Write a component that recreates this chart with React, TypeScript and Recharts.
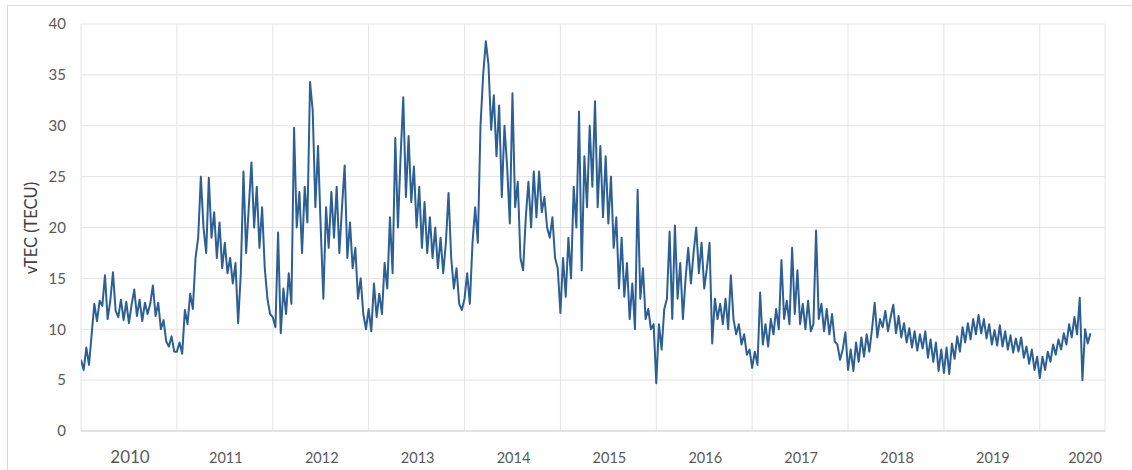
import { LineChart, Line, XAxis, YAxis, CartesianGrid } from 'recharts';

// vTEC readings, ~10 days apart (36 per year)
const years = [2010, 2011, 2012, 2013, 2014, 2015, 2016, 2017, 2018, 2019, 2020];

const vtec2010 = [7, 6, 8.2, 6.5, 9.5, 12.5, 10.8, 12.8, 12.3, 15.3, 11, 12.8, 15.6, 11.8, 11.2, 12.9, 10.9, 12.7, 10.6, 12.4, 13.9, 11.3, 12.9, 10.8, 12.6, 11.5, 12.5, 14.3, 11.3, 12.6, 10, 10.9, 8.8, 8.3, 9.3, 7.8];
const vtec2011 = [7.8, 8.7, 7.6, 11.9, 10.5, 13.5, 12, 17, 19, 25, 20, 17.5, 24.9, 19, 21.5, 17, 20.5, 16, 18.5, 15.5, 17, 14.5, 16.5, 10.6, 15.5, 25.5, 17.5, 22, 26.4, 20, 24, 18, 22, 16, 13, 11.5];
const vtec2012 = [11.2, 10.2, 19.5, 9.6, 14, 11.5, 15.5, 12.5, 29.8, 20, 23.5, 17.5, 24, 20.5, 34.3, 31.5, 22, 28, 20, 13, 22, 18, 23.5, 19, 24, 17.5, 22, 26.1, 17, 20.5, 16, 18, 13, 15, 11.5, 10];
const vtec2013 = [12, 9.8, 14.5, 11.2, 13.5, 11.5, 16.5, 14, 21, 15.5, 28.8, 20, 27, 32.8, 23, 29, 22.5, 26, 20, 24, 18, 22.5, 17.5, 21, 17, 20, 16, 19, 15.5, 18.5, 23.4, 17, 14, 16, 12.5, 11.9];
const vtec2014 = [13, 15.5, 12.5, 18.5, 22, 18.5, 30, 35, 38.3, 36, 29.6, 33, 27, 32, 23, 30, 26, 20.4, 33.2, 22, 24.5, 17, 15.8, 21, 24.5, 20, 25.5, 21, 25.5, 21.5, 23, 20, 19, 21, 17, 16];
const vtec2015 = [11.6, 17, 13.2, 19, 15, 24, 20, 31.4, 15.8, 27, 22, 30, 24, 32.4, 22, 28, 21, 27, 20.4, 25, 18, 21, 14, 19, 13.2, 16.5, 11, 14.5, 10, 23.7, 13, 16, 11, 12, 10, 10.5];
const vtec2016 = [4.7, 10.5, 8, 12, 13, 19.6, 11, 20.2, 13, 16.5, 11, 15, 18, 14.5, 17.5, 20, 15.5, 18.5, 14, 16, 18.5, 8.6, 13, 11, 12.5, 10.5, 13, 10, 15.3, 11, 9.5, 10.5, 8.5, 9.5, 7.5, 8];
const vtec2017 = [6.2, 7.8, 6.5, 13.6, 8.5, 10.5, 8.3, 11, 9.5, 12, 10, 16.8, 11, 12.8, 10.5, 18, 11.5, 15.8, 10.5, 12.5, 10, 12.8, 9.8, 10.5, 19.7, 11, 12.5, 9.8, 12, 9.5, 11.5, 8.8, 8.5, 7, 8, 9.7];
const vtec2018 = [6, 8, 5.9, 8.7, 6.8, 9.2, 7.3, 9.5, 7.8, 10, 12.6, 9.2, 11, 10.2, 11.8, 9.8, 11.2, 12.4, 9.6, 11.3, 9.2, 10.6, 8.7, 10.1, 8.2, 9.8, 7.9, 9.5, 8.1, 9.8, 7.2, 9, 6.8, 8.7, 5.9, 8];
const vtec2019 = [5.7, 8.2, 5.6, 8.6, 7.1, 9.3, 7.8, 10.2, 8.7, 10.6, 9, 11, 9.5, 11.4, 9.6, 11, 9.1, 10.5, 8.5, 9.9, 8.4, 10.4, 8.3, 9.8, 8, 9.4, 7.7, 9.1, 7.8, 9.2, 7.2, 8.3, 6.6, 8, 6, 7.3];
const vtec2020 = [5.2, 7.3, 6, 7.8, 6.8, 8.5, 7.5, 9, 8, 9.6, 8.5, 10.5, 9.2, 11.2, 9.5, 13.1, 5, 10, 8.6, 9.6];

const yearSeries = [vtec2010, vtec2011, vtec2012, vtec2013, vtec2014, vtec2015, vtec2016, vtec2017, vtec2018, vtec2019, vtec2020];
const yTicks = [0, 5, 10, 15, 20, 25, 30, 35, 40];

const data = yearSeries.flatMap((vals, k) =>
  vals.map((v, i) => ({ t: years[k] + i / 36, v }))
);

const font = 'Lato, "Open Sans", sans-serif';

const YearTick = (props: any) => {
  const { x, y, payload } = props;
  const yr = payload.value;
  // labels sit in the middle of each year, the last one is squeezed in
  const cx = Math.min(x + 49, 1085);
  return (
    <text x={cx} y={y + 24} textAnchor="middle" fill="#595959" fontFamily={font} fontSize={yr === 2010 ? 17 : 14.5}>
      {yr}
    </text>
  );
};

export default function App() {
  return (
    <div style={{ position: 'absolute', left: 0, top: 0, width: 1132, height: 470, background: '#fff' }}>
      <div style={{ position: 'absolute', left: 7, top: 5, width: 1130, height: 465, border: '1px solid #d9d9d9' }} />
      <div
        style={{
          position: 'absolute', left: 31, top: 228, transform: 'translate(-50%, -50%) rotate(-90deg)',
          fontFamily: font, fontSize: 16.5, color: '#404040', whiteSpace: 'nowrap',
        }}
      >
        vTEC (TECU)
      </div>
      <LineChart width={1132} height={470} data={data} margin={{ top: 24, right: 27, bottom: 0, left: 21 }} style={{ position: 'absolute', left: 0, top: 0 }}>
        <CartesianGrid stroke="#e4e4e4" />
        <XAxis
          type="number"
          dataKey="t"
          domain={[2010, 2020.68]}
          ticks={years}
          tick={(p: any) => <YearTick {...p} />}
          tickLine={false}
          axisLine={{ stroke: '#d4d4d4' }}
          height={39}
          allowDataOverflow
        />
        <YAxis
          domain={[0, 40]}
          ticks={yTicks}
          width={60}
          tickLine={false}
          axisLine={false}
          tickMargin={9}
          tick={{ fill: '#595959', fontSize: 15, fontFamily: font }}
        />
        <Line type="linear" dataKey="v" stroke="#2c5f93" strokeWidth={2} strokeLinejoin="round" dot={false} isAnimationActive={false} />
      </LineChart>
    </div>
  );
}
